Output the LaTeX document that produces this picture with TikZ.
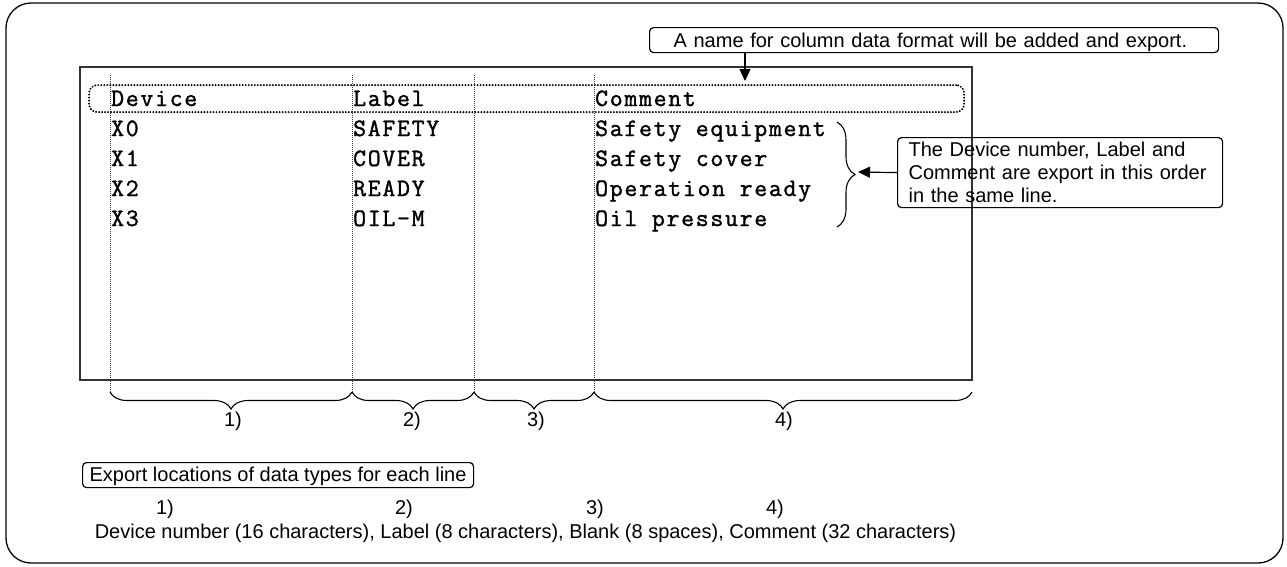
\documentclass[tikz,border=0pt]{standalone}
\usepackage{fontspec}
\setmainfont{Liberation Sans}
\newfontfamily\scrmono[LetterSpace=7,FakeBold=1.5]{Latin Modern Mono}
\usetikzlibrary{arrows.meta,decorations.pathreplacing}
\begin{document}
\begin{tikzpicture}[x=1pt,y=-1pt,
  frame/.style={line width=1.3pt, rounded corners=25pt},
  screen/.style={line width=1.6pt, draw=black!80},
  colline/.style={line width=0.7pt, dash pattern=on 1pt off 1pt, draw=black!75},
  hdrbox/.style={draw, line width=2.2pt, line cap=round, dash pattern=on 0.01pt off 3pt, rounded corners=8pt, inner sep=0pt},
  callout/.style={draw, line width=1.2pt, rounded corners=4pt, font=\fontsize{20}{23}\selectfont, inner sep=0pt},
  mono/.style={anchor=base west, inner sep=0pt, font={\scrmono\fontsize{25}{25}\selectfont}},
  lbl/.style={font=\fontsize{20}{23}\selectfont, inner sep=0pt},
  brc/.style={decorate, decoration={brace, amplitude=17pt}, line width=1.1pt},
  arr/.style={line width=1.2pt, -{Triangle[length=12pt,width=11pt]}}
]
\useasboundingbox (0,0) rectangle (1287,566);
% outer frame
\draw[frame] (6,3) rectangle (1283,563);
% screen
\draw[screen] (80,67) rectangle (972,380);
% column guide coordinates
\coordinate (c1) at (110,75);
\coordinate (c2) at (352,75);
\coordinate (c3) at (474,75);
\coordinate (c4) at (594,75);
\coordinate (c5) at (972,392);
\foreach \c in {c1,c2,c3,c4}{
  \draw[colline] (\c) -- (\c |- c5);
}
% header dotted box
\node[hdrbox, anchor=north west, minimum width=875pt, minimum height=27pt] (hdr) at (88,84) {};
% table text
\node[mono] (h1) at (111,106) {Device};
\node[mono] (h2) at (353,106) {Label};
\node[mono] (h3) at (595,106) {Comment};
\node[mono] (d0) at (111,136) {X0};
\node[mono] (d1) at (111,166) {X1};
\node[mono] (d2) at (111,196) {X2};
\node[mono] (d3) at (111,226) {X3};
\node[mono] (l0) at (353,136) {SAFETY};
\node[mono] (l1) at (353,166) {COVER};
\node[mono] (l2) at (353,196) {READY};
\node[mono] (l3) at (353,226) {OIL-M};
\node[mono] (m0) at (595,136) {Safety equipment};
\node[mono] (m1) at (595,166) {Safety cover};
\node[mono] (m2) at (595,196) {Operation ready};
\node[mono] (m3) at (595,226) {Oil pressure};
% top callout
\node[callout, anchor=north west, minimum width=569pt, minimum height=25pt, text width=521pt, inner xsep=24pt, align=left, text height=17pt, text depth=3pt] (topbox) at (649,27) {A name for column data format will be added and export.};
\coordinate (ttip) at (745,81);
\draw[arr] (topbox.south -| ttip) -- (ttip);
% right brace and callout
\draw[brc, decoration={brace, amplitude=18pt}] (837,122) -- (837,227);
\node[callout, anchor=north west, minimum width=325pt, minimum height=70pt, text width=303pt, inner xsep=11pt, align=left] (rbox) at (897,137) {The Device number, Label and\\Comment are export in this order\\in the same line.};
\coordinate (rtip) at (858,172);
\draw[arr] (rbox.west) -- (rtip);
% bottom braces
\draw[brc] (c2 |- c5) -- (c1 |- c5);
\draw[brc] (c3 |- c5) -- (c2 |- c5);
\draw[brc] (c4 |- c5) -- (c3 |- c5);
\draw[brc] (c5) -- (c4 |- c5);
\node[lbl] (b1) at (233,421) {1)};
\node[lbl] (b2) at (412,421) {2)};
\node[lbl] (b3) at (536,421) {3)};
\node[lbl] (b4) at (784,421) {4)};
% export box
\node[callout, anchor=north west, minimum width=391pt, minimum height=25pt, text height=15pt, text depth=3pt] (exp) at (82,462) {Export locations of data types for each line};
\node[lbl] (n1) at (165,509) {1)};
\node[lbl] (n2) at (404,509) {2)};
\node[lbl] (n3) at (595,509) {3)};
\node[lbl] (n4) at (775,509) {4)};
\node[lbl, anchor=base] (desc) at (525.5,538) {Device number (16 characters), Label (8 characters), Blank (8 spaces), Comment (32 characters)};
\end{tikzpicture}
\end{document}
